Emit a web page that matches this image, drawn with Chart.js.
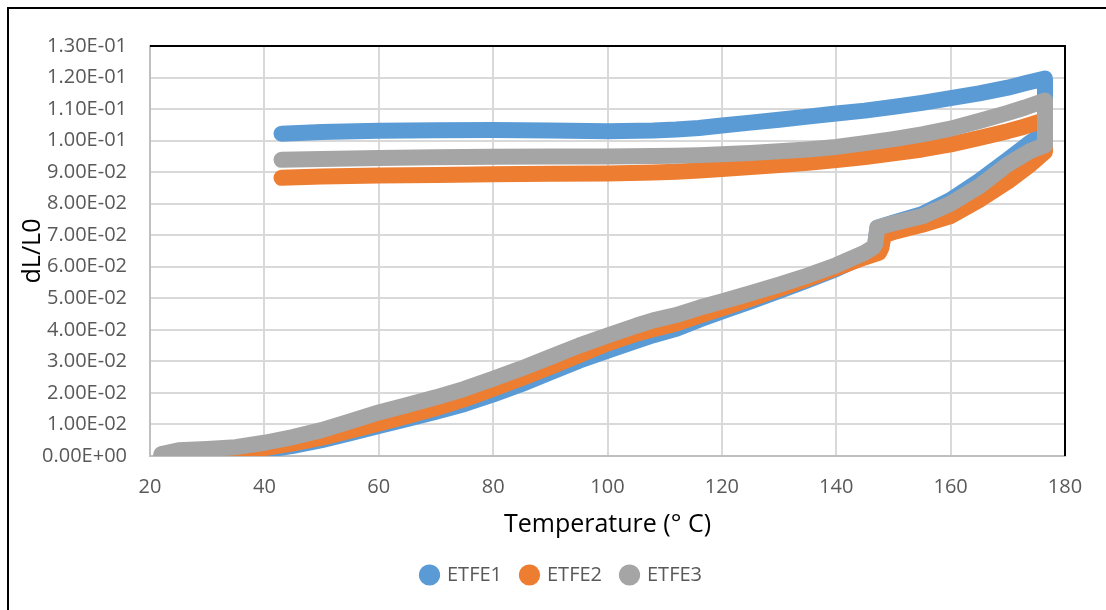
<!DOCTYPE html>
<html>
<head>
<meta charset="utf-8">
<script src="https://cdn.jsdelivr.net/npm/chart.js@4.4.0/dist/chart.umd.min.js"></script>
<style>
  html, body { margin: 0; padding: 0; background: #fff; overflow: hidden; }
  #wrap { position: relative; width: 1106px; height: 610px; }
  #frame { position: absolute; left: 7px; top: 7px; width: 1200px; height: 700px;
           border-left: 2px solid #000; border-top: 2px solid #000; }
  #chart { position: absolute; left: 0; top: 0; }
</style>
</head>
<body>
<div id="wrap">
  <div id="frame"></div>
  <canvas id="chart" width="1106" height="610"></canvas>
</div>
<script>
// heating branch (lower curve)
const heatTemps1 = [22, 25, 30, 35, 40, 45, 50, 55, 60, 65, 70, 75, 80, 85, 90, 95, 100, 105, 108, 112,
  116, 120, 125, 130, 135, 140, 145, 146.5, 146.8, 147.2, 150, 155, 160, 165, 170, 174, 176.5];
const heatVals1 = [-0.0003, 0.0000, 0.0003, 0.0008, 0.0018, 0.0032, 0.0050, 0.0072, 0.0095, 0.0117,
  0.0140, 0.0165, 0.0195, 0.0228, 0.0265, 0.0302, 0.0334, 0.0365, 0.0383, 0.0403,
  0.0432, 0.0458, 0.0490, 0.0523, 0.0557, 0.0593, 0.0635, 0.0652, 0.0665, 0.0724,
  0.0740, 0.0767, 0.0812, 0.0872, 0.0940, 0.0995, 0.1025];

const heatTemps2 = [22, 25, 30, 35, 40, 45, 50, 55, 60, 65, 70, 75, 80, 85, 90, 95, 100, 105, 108, 112,
  116, 120, 125, 130, 135, 140, 145, 147.5, 147.9, 148.3, 150, 155, 160, 165, 170, 174, 176.5];
const heatVals2 = [0.0000, 0.0003, 0.0007, 0.0013, 0.0025, 0.0040, 0.0058, 0.0080, 0.0103, 0.0127,
  0.0152, 0.0180, 0.0213, 0.0247, 0.0283, 0.0320, 0.0357, 0.0388, 0.0402, 0.0420,
  0.0445, 0.0468, 0.0498, 0.0530, 0.0562, 0.0596, 0.0630, 0.0645, 0.0660, 0.0700,
  0.0710, 0.0733, 0.0761, 0.0812, 0.0870, 0.0925, 0.0965];

const heatTemps3 = heatTemps1;
const heatVals3 = [0.0006, 0.0018, 0.0022, 0.0028, 0.0042, 0.0060, 0.0082, 0.0110, 0.0138, 0.0162,
  0.0186, 0.0213, 0.0245, 0.0278, 0.0314, 0.0350, 0.0382, 0.0413, 0.0430, 0.0447,
  0.0470, 0.0490, 0.0516, 0.0543, 0.0572, 0.0605, 0.0645, 0.0662, 0.0672, 0.0724,
  0.0738, 0.0760, 0.0800, 0.0855, 0.0925, 0.0968, 0.0985];

// cooling branch (upper curve), starts at top of the vertical step at 176.5
const coolTemps = [176.5, 173, 170, 165, 160, 155, 150, 145, 140, 135, 130, 125, 120, 116, 112, 108,
  100, 90, 80, 70, 60, 50, 43];
const coolVals1 = [0.1197, 0.1182, 0.1168, 0.1150, 0.1135, 0.1120, 0.1107, 0.1095, 0.1086, 0.1076,
  0.1066, 0.1057, 0.1048, 0.1040, 0.1035, 0.1032, 0.1030, 0.1032, 0.1034, 0.1033, 0.1031, 0.1027, 0.1022];
const coolVals2 = [0.1065, 0.1045, 0.1030, 0.1008, 0.0988, 0.0972, 0.0960, 0.0948, 0.0938, 0.0930,
  0.0923, 0.0916, 0.0910, 0.0905, 0.0901, 0.0899, 0.0896, 0.0895, 0.0893, 0.0891, 0.0889, 0.0886, 0.0882];
const coolVals3 = [0.1127, 0.1105, 0.1088, 0.1062, 0.1038, 0.1020, 0.1005, 0.0992, 0.0980, 0.0972,
  0.0966, 0.0961, 0.0957, 0.0954, 0.0952, 0.0951, 0.0950, 0.0950, 0.0949, 0.0947, 0.0945, 0.0942, 0.0939];

const seriesNames = ['ETFE1', 'ETFE2', 'ETFE3'];
const seriesColors = ['#5B9BD5', '#ED7D31', '#A5A5A5'];

function toPoints(ht, hv, ct, cv) {
  const pts = ht.map((t, i) => ({ x: t, y: hv[i] }));
  return pts.concat(ct.map((t, i) => ({ x: t, y: cv[i] })));
}

function sci(v) {
  v = Math.round(v * 1e6) / 1e6;
  if (v === 0) return '0.00E+00';
  const e = Math.floor(Math.log10(Math.abs(v)) + 1e-9);
  const m = v / Math.pow(10, e);
  return m.toFixed(2) + 'E' + (e < 0 ? '-' : '+') + String(Math.abs(e)).padStart(2, '0');
}

const allPoints = [
  toPoints(heatTemps1, heatVals1, coolTemps, coolVals1),
  toPoints(heatTemps2, heatVals2, coolTemps, coolVals2),
  toPoints(heatTemps3, heatVals3, coolTemps, coolVals3)
];

const textGray = '#595959';
const fontFam = "'Open Sans', sans-serif";

// black top and right edges of the plot area
const plotFrame = {
  id: 'plotFrame',
  beforeDatasetsDraw(chart) {
    const { ctx, chartArea: { left, top, right, bottom } } = chart;
    ctx.save();
    ctx.strokeStyle = '#000';
    ctx.lineWidth = 2;
    ctx.beginPath();
    ctx.moveTo(left, top);
    ctx.lineTo(right, top);
    ctx.lineTo(right, bottom);
    ctx.stroke();
    ctx.restore();
  }
};

new Chart(document.getElementById('chart'), {
  type: 'scatter',
  data: {
    datasets: allPoints.map((pts, i) => ({
      label: seriesNames[i],
      data: pts,
      showLine: true,
      borderColor: seriesColors[i],
      backgroundColor: seriesColors[i],
      borderWidth: 16,
      borderCapStyle: 'round',
      borderJoinStyle: 'round',
      pointRadius: 0,
      pointHoverRadius: 0,
      pointBorderWidth: 0,
      pointBackgroundColor: seriesColors[i],
      tension: 0,
      order: 3 - i
    }))
  },
  options: {
    responsive: false,
    animation: false,
    layout: { padding: { left: 18, right: 0, top: 46, bottom: 15 } },
    plugins: {
      tooltip: { enabled: false },
      legend: {
        position: 'bottom',
        labels: {
          usePointStyle: true,
          pointStyle: 'circle',
          boxWidth: 15,
          boxHeight: 15,
          padding: 20,
          color: textGray,
          font: { family: fontFam, size: 20 },
          sort: (a, b) => a.datasetIndex - b.datasetIndex
        }
      }
    },
    scales: {
      x: {
        type: 'linear',
        min: 20,
        max: 180,
        afterFit: s => { s.height = 89; },
        ticks: { stepSize: 20, padding: 19, color: textGray, font: { family: fontFam, size: 20 } },
        grid: { color: '#D9D9D9', lineWidth: 2, drawTicks: false },
        border: { color: '#BFBFBF', width: 2 },
        title: { display: true, text: 'Temperature (° C)', color: '#000',
                 font: { family: fontFam, size: 25 }, padding: { top: 0, bottom: 5 } }
      },
      y: {
        type: 'linear',
        min: 0,
        max: 0.13,
        afterFit: s => { s.width = 132; },
        ticks: { stepSize: 0.01, padding: 23, color: textGray, font: { family: fontFam, size: 20 },
                 callback: v => sci(v) },
        grid: { color: '#D9D9D9', lineWidth: 2, drawTicks: false },
        border: { color: '#BFBFBF', width: 2 },
        title: { display: true, text: 'dL/L0', color: '#000',
                 font: { family: fontFam, size: 25 }, padding: { top: 0, bottom: 0 } }
      },
      yRight: {
        position: 'right',
        display: true,
        afterFit: s => { s.width = 41; },
        ticks: { display: false },
        grid: { display: false, drawTicks: false },
        border: { display: false }
      }
    }
  },
  plugins: [plotFrame]
});
</script>
</body>
</html>
